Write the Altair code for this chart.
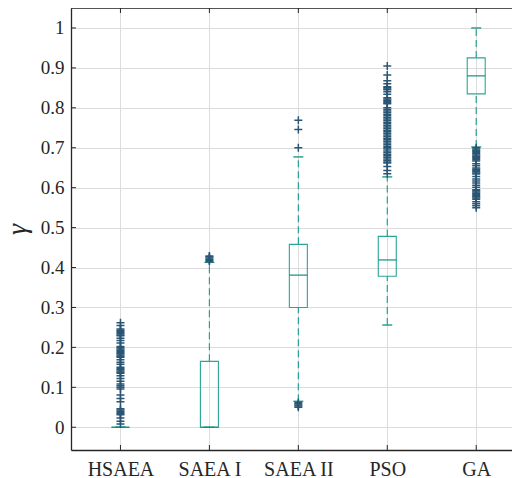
import json
import altair as alt
import pandas as pd

# ---------------- data ----------------
methods = ["HSAEA", "SAEA I", "SAEA II", "PSO", "GA"]
q1 = [0.0, 0.0, 0.300, 0.378, 0.835]
median = [0.0, 0.0, 0.381, 0.419, 0.880]
q3 = [0.0, 0.165, 0.458, 0.478, 0.925]
whisker_low = [0.0, 0.0, 0.065, 0.256, 0.702]
whisker_high = [0.0, 0.413, 0.677, 0.627, 1.0]

outliers_hsaea = [0.262, 0.255, 0.246, 0.243, 0.240, 0.237, 0.234, 0.231, 0.229,
                  0.223, 0.217, 0.211, 0.202, 0.199, 0.196, 0.193, 0.190, 0.187,
                  0.184, 0.181, 0.178, 0.175, 0.169, 0.163, 0.158, 0.150, 0.147,
                  0.144, 0.141, 0.138, 0.135, 0.129, 0.122, 0.115, 0.108, 0.104,
                  0.100, 0.096, 0.081, 0.072, 0.064, 0.046, 0.043, 0.040, 0.037,
                  0.034, 0.031, 0.023, 0.015, 0.008]
outliers_saea1 = [0.415, 0.418, 0.421, 0.424, 0.427, 0.429]
outliers_saea2 = [0.769, 0.746, 0.700, 0.062, 0.059, 0.056, 0.053, 0.050]
outliers_pso = [0.905, 0.882, 0.868, 0.860, 0.853, 0.850, 0.847, 0.845, 0.840,
                0.834, 0.825, 0.822, 0.819, 0.816, 0.813, 0.810, 0.800, 0.796,
                0.792, 0.788, 0.784, 0.780, 0.776, 0.772, 0.768, 0.764, 0.760,
                0.756, 0.752, 0.748, 0.744, 0.740, 0.736, 0.732, 0.728, 0.724,
                0.720, 0.716, 0.712, 0.708, 0.704, 0.700, 0.697, 0.692, 0.688,
                0.684, 0.680, 0.676, 0.672, 0.668, 0.664, 0.662, 0.653, 0.643,
                0.635]
outliers_ga = [0.700, 0.697, 0.694, 0.691, 0.688, 0.685, 0.682, 0.679, 0.676,
               0.673, 0.670, 0.667, 0.660, 0.655, 0.649, 0.646, 0.643, 0.640,
               0.637, 0.634, 0.628, 0.622, 0.617, 0.612, 0.606, 0.601, 0.595,
               0.592, 0.589, 0.586, 0.583, 0.580, 0.577, 0.574, 0.571, 0.565,
               0.560, 0.555, 0.550]
y_ticks = [0, 0.1, 0.2, 0.3, 0.4, 0.5, 0.6, 0.7, 0.8, 0.9, 1]

# ---------------- tables ----------------
positions = list(range(1, len(methods) + 1))
box_df = pd.DataFrame({"pos": positions, "method": methods, "q1": q1,
                       "median": median, "q3": q3})
whisk_rows = []
cap_rows = []
for p, a, b, c, d in zip(positions, whisker_low, q1, q3, whisker_high):
    whisk_rows.append({"pos": p, "lo": a, "hi": b})
    whisk_rows.append({"pos": p, "lo": c, "hi": d})
    cap_rows.append({"pos": p, "v": a})
    cap_rows.append({"pos": p, "v": d})
whisk_df = pd.DataFrame(whisk_rows)
cap_df = pd.DataFrame(cap_rows)
out_rows = []
for p, lst in zip(positions, [outliers_hsaea, outliers_saea1, outliers_saea2,
                              outliers_pso, outliers_ga]):
    for v in lst:
        out_rows.append({"pos": p, "v": v})
out_df = pd.DataFrame(out_rows)
ytick_df = pd.DataFrame({"v": y_ticks})
xtick_df = pd.DataFrame({"pos": positions})
one_df = pd.DataFrame({"a": [0]})

# ---------------- style ----------------
W, H = 441, 442
FONT = "'Liberation Serif', 'DejaVu Serif', serif"
TEXT = "#262626"
BOX = "#2aa596"
MED = "#12917f"
WHISK = "#22a292"
OUT = "#2a5676"
GRID = "#dcdcdc"

label_expr = json.dumps(methods) + "[datum.value - 1]"

xenc = alt.X("pos:Q",
             scale=alt.Scale(domain=[0.5, 0.5 + W / 91.0], nice=False, zero=False),
             axis=alt.Axis(values=positions, labelExpr=label_expr, title=None,
                           ticks=False, tickSize=0, labelPadding=25,
                           labelBaseline="alphabetic",
                           labelFont=FONT, labelFontSize=20, labelColor=TEXT,
                           domainColor=TEXT, domainWidth=1.3, grid=True,
                           gridColor=GRID, gridWidth=1))
yscale = alt.Scale(domain=[-0.057, 1.05], nice=False, zero=False)
yaxis = alt.Axis(values=y_ticks, format="~g", title="γ", ticks=False, tickSize=0,
                 labelPadding=7, labelFont=FONT, labelFontSize=19, labelColor=TEXT,
                 titleFont=FONT, titleFontSize=28, titleFontWeight="normal",
                 titleFontStyle="italic", titleColor=TEXT, titlePadding=9,
                 domainColor=TEXT, domainWidth=1.3, grid=True, gridColor=GRID,
                 gridWidth=1)


def Y(field):
    return alt.Y(field, scale=yscale, axis=yaxis)


whiskers = alt.Chart(whisk_df).mark_rule(color=WHISK, strokeWidth=1.2,
                                         strokeDash=[7, 4]).encode(
    x=xenc, y=Y("lo:Q"), y2="hi:Q")
boxes = alt.Chart(box_df).mark_bar(size=18, fillOpacity=0, stroke=BOX,
                                   strokeWidth=1.1).encode(
    x=xenc, y=Y("q1:Q"), y2="q3:Q")
medians = alt.Chart(box_df).mark_point(shape="M-1,0H1", size=324, filled=False,
                                       color=MED, strokeWidth=1.2, opacity=1).encode(
    x=xenc, y=Y("median:Q"))
caps = alt.Chart(cap_df).mark_point(shape="M-1,0H1", size=100, filled=False,
                                    color=MED, strokeWidth=1.3, opacity=1).encode(
    x=xenc, y=Y("v:Q"))
outs = alt.Chart(out_df).mark_point(shape="M-1,0H1M0,-1V1", size=64, filled=False,
                                    color=OUT, strokeWidth=1.5, opacity=1).encode(
    x=xenc, y=Y("v:Q"))
yticks = alt.Chart(ytick_df).mark_rule(color=TEXT, strokeWidth=1).encode(
    y=Y("v:Q"), x=alt.value(0), x2=alt.value(5))
xticks_bottom = alt.Chart(xtick_df).mark_rule(color=TEXT, strokeWidth=1).encode(
    x=xenc, y=alt.value(H - 5), y2=alt.value(H))
xticks_top = alt.Chart(xtick_df).mark_rule(color=TEXT, strokeWidth=1).encode(
    x=xenc, y=alt.value(0), y2=alt.value(5))
top_border = alt.Chart(one_df).mark_rule(color=TEXT, strokeWidth=1.3).encode(
    x=alt.value(0), x2=alt.value(W), y=alt.value(0))

chart = alt.layer(whiskers, boxes, medians, caps, outs, yticks, xticks_bottom,
                  xticks_top, top_border).properties(
    width=W, height=H,
    autosize=alt.AutoSizeParams(type="none"),
    padding={"left": 63, "top": 0, "right": 0, "bottom": 30},
).configure_view(strokeWidth=0).configure(background="white")

chart.save("out.html", embed_options={"renderer": "svg", "actions": False})
